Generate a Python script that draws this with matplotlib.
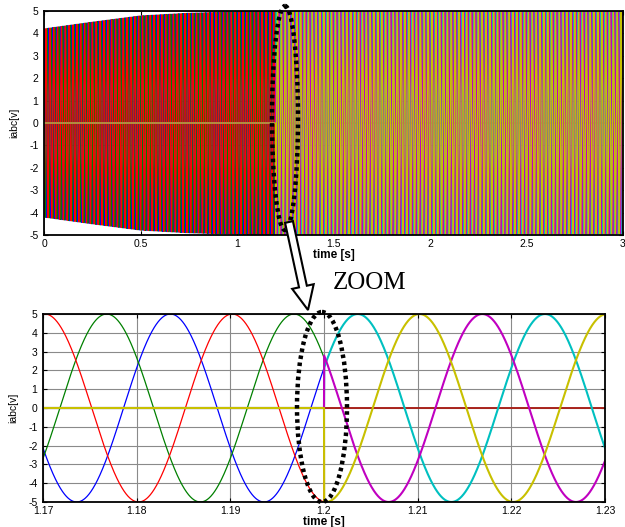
import numpy as np
import matplotlib.pyplot as plt
from matplotlib.patches import Ellipse, FancyArrow
from matplotlib.transforms import Affine2D

# ======== values ========
FREQ = 50.0           # Hz (period 0.02 s)
T_SWITCH = 1.2        # s, first set of phases -> second set
# time of a positive peak for every phase, MATLAB colour order b g r c m y
PHASE_COLORS = ['#0000ff', '#008000', '#ff0000', '#00c0c0', '#c000c0', '#c8c000']
PHASE_PEAKS = [1.1836, 1.1768, 1.1902, 1.2036, 1.2169, 1.2102]
PHASE_AFTER = [False, False, False, True, True, True]
# amplitude envelope of the full run (top plot)
ENV_T = [0.0, 0.25, 0.5, 0.75, 1.0, 1.2, 3.0]
ENV_A = [4.2, 4.5, 4.78, 4.9, 4.96, 5.0, 4.95]
ZOOM_AMP = 5.0

TOP_XTICKS = [0, 0.5, 1, 1.5, 2, 2.5, 3]
TOP_XLABELS = ['0', '0.5', '1', '1.5', '2', '2.5', '3']
ZOOM_XTICKS = [1.17, 1.18, 1.19, 1.20, 1.21, 1.22, 1.23]
ZOOM_XLABELS = ['1.17', '1.18', '1.19', '1.2', '1.21', '1.22', '1.23']
YTICKS = list(range(-5, 6))
# =============================================

W, H = 625, 527
plt.rcParams['font.family'] = ['Liberation Sans', 'DejaVu Sans']
plt.rcParams['axes.unicode_minus'] = False


def phases(t, amp):
    out = []
    for peak, after in zip(PHASE_PEAKS, PHASE_AFTER):
        wave = amp * np.cos(2 * np.pi * FREQ * (t - peak))
        on = (t >= T_SWITCH) if after else (t < T_SWITCH)
        out.append(np.where(on, wave, 0.0))
    return out


def style_axes(ax, xticks, xlabels, xlim):
    ax.set_xlim(*xlim)
    ax.set_ylim(-5, 5)
    ax.set_xticks(xticks)
    ax.set_xticklabels(xlabels)
    ax.set_yticks(YTICKS)
    ax.tick_params(direction='in', top=True, right=True, length=3,
                   labelsize=7.5)
    ax.tick_params(axis='x', pad=3)
    ax.tick_params(axis='y', pad=4)
    ax.set_ylabel('iabc[v]', fontsize=7.5, labelpad=7)
    ax.set_xlabel('time [s]', fontsize=8.5, fontweight='bold', labelpad=0)
    for s in ax.spines.values():
        s.set_linewidth(1.3)
    ax.set_axisbelow(True)


fig = plt.figure(figsize=(W / 100, H / 100), dpi=100)

# ---- full run ----
ax1 = fig.add_axes([44 / W, 1 - 235 / H, 579 / W, 224 / H])
t_full = np.arange(0, 3.0001, 1e-4)
env = np.interp(t_full, ENV_T, ENV_A)
for y, c in zip(phases(t_full, env), PHASE_COLORS):
    ax1.plot(t_full, y, color=c, lw=0.9)
ax1.grid(True, color='#909090', lw=0.6)
style_axes(ax1, TOP_XTICKS, TOP_XLABELS, (0, 3))

# ---- zoom around the switch ----
ax2 = fig.add_axes([43 / W, 1 - 502 / H, 562 / W, 188 / H])
t_zoom = np.arange(1.17, 1.23001, 2e-5)
for y, c, after in zip(phases(t_zoom, ZOOM_AMP), PHASE_COLORS, PHASE_AFTER):
    ax2.plot(t_zoom, y, color=c, lw=1.5 if after else 0.9)
ax2.grid(True, color='#8a8a8a', lw=0.8)
style_axes(ax2, ZOOM_XTICKS, ZOOM_XLABELS, (1.17, 1.23))

# ---- annotations, in picture pixels (origin top-left) ----
px = Affine2D().scale(1 / W, -1 / H).translate(0, 1) + fig.transFigure
for cx, cy, w, h in [(285, 118, 26, 224), (322, 407, 50, 190)]:
    fig.patches.append(Ellipse((cx, cy), w, h, transform=px, fill=False,
                               ec='black', lw=3.2, ls=(0, (0.8, 0.8))))
fig.patches.append(FancyArrow(289, 222, 19, 88, width=8, head_width=22,
                              head_length=24, length_includes_head=True,
                              fc='white', ec='black', lw=1.5, transform=px))
fig.text(370 / W, 1 - 283 / H, 'ZOOM', family='Liberation Serif',
         fontsize=18, ha='center', va='center')

fig.savefig('out.png', dpi=100)
